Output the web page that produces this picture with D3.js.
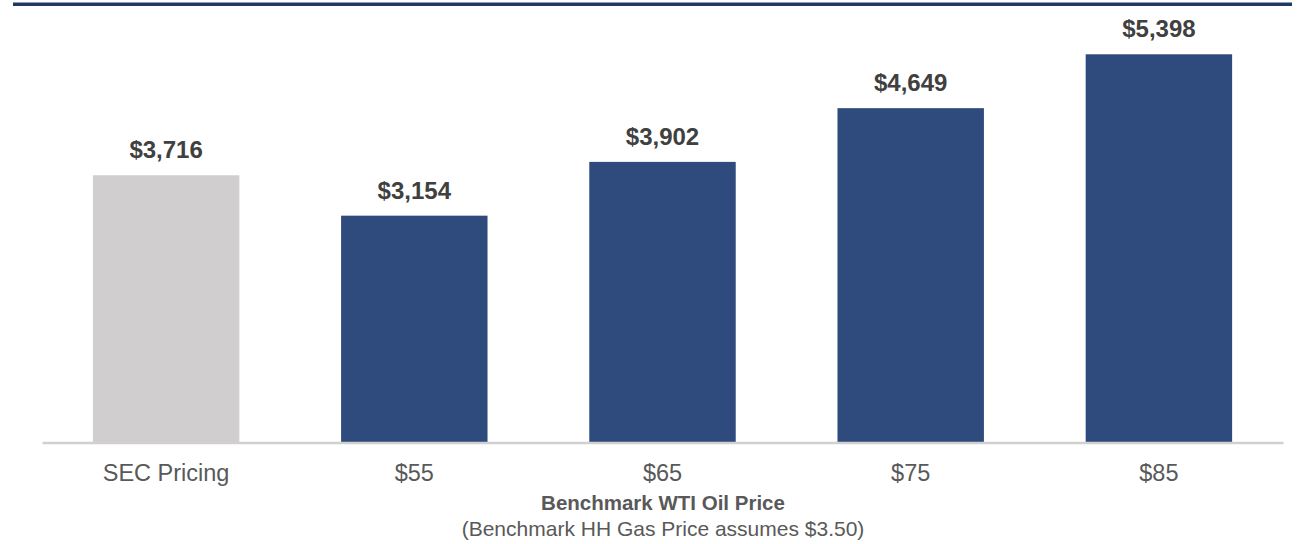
<!DOCTYPE html>
<html>
<head>
<meta charset="utf-8">
<script src="https://cdn.jsdelivr.net/npm/d3@7"></script>
<style>
  body { margin: 0; background: #fff; }
  svg { display: block; font-family: "Liberation Sans", Arial, sans-serif; }
</style>
</head>
<body>
<div id="canvas"></div>
<script>
// data
var categories = ['SEC Pricing', '$55', '$65', '$75', '$85'];
var values = [3716, 3154, 3902, 4649, 5398];
var barColors = ['#d0cece', '#2f4a7c', '#2f4a7c', '#2f4a7c', '#2f4a7c'];
var axisTitle = 'Benchmark WTI Oil Price';
var axisSubtitle = '(Benchmark HH Gas Price assumes $3.50)';

var W = 1299, H = 544;

var svg = d3.select('#canvas')
    .append('svg')
    .attr('width', W)
    .attr('height', H);

var data = categories.map(function(c, i){ return {cat: c, val: values[i], color: barColors[i]}; });

// Scale
var scaleX = d3.scaleBand()
    .domain(categories)
    .range([42, 1283])
    .paddingInner(0.41)
    .paddingOuter(0.205);
var scaleY = d3.scaleLinear()
    .domain([0, 6000])
    .range([442.5, 11]);

// top rule
svg.append('rect')
    .attr('x', 13).attr('y', 2.5)
    .attr('width', 1279).attr('height', 3.5)
    .attr('fill', '#1f3864');

// bars
svg.selectAll('.bar')
    .data(data)
    .enter()
    .append('rect')
    .attr('class', 'bar')
    .attr('x', function(d){ return scaleX(d.cat); })
    .attr('y', function(d){ return scaleY(d.val); })
    .attr('width', scaleX.bandwidth())
    .attr('height', function(d){ return scaleY(0) - scaleY(d.val); })
    .attr('fill', function(d){ return d.color; });

// value labels
svg.selectAll('.val')
    .data(data)
    .enter()
    .append('text')
    .attr('class', 'val')
    .attr('x', function(d){ return scaleX(d.cat) + scaleX.bandwidth() / 2; })
    .attr('y', function(d){ return scaleY(d.val) - 17; })
    .attr('text-anchor', 'middle')
    .style('font-size', '24px')
    .style('font-weight', 'bold')
    .style('fill', '#404040')
    .text(function(d){ return '$' + d3.format(',')(d.val); });

// x axis
var axisX = d3.axisBottom(scaleX).tickSize(0).tickPadding(22);
var gx = svg.append('g')
    .attr('class', 'axis axis-x')
    .attr('transform', 'translate(0,' + scaleY(0) + ')')
    .call(axisX);
gx.select('.domain')
    .attr('stroke', '#d0d0d0')
    .attr('stroke-width', 2.5);
gx.selectAll('text')
    .style('font-family', '"Liberation Sans", Arial, sans-serif')
    .style('font-size', '23.5px')
    .style('fill', '#595959');

// axis titles
svg.append('text')
    .attr('x', 663).attr('y', 510)
    .attr('text-anchor', 'middle')
    .style('font-size', '20.5px')
    .style('font-weight', 'bold')
    .style('fill', '#595959')
    .text(axisTitle);
svg.append('text')
    .attr('x', 663).attr('y', 536)
    .attr('text-anchor', 'middle')
    .style('font-size', '21px')
    .style('fill', '#595959')
    .text(axisSubtitle);
</script>
</body>
</html>
